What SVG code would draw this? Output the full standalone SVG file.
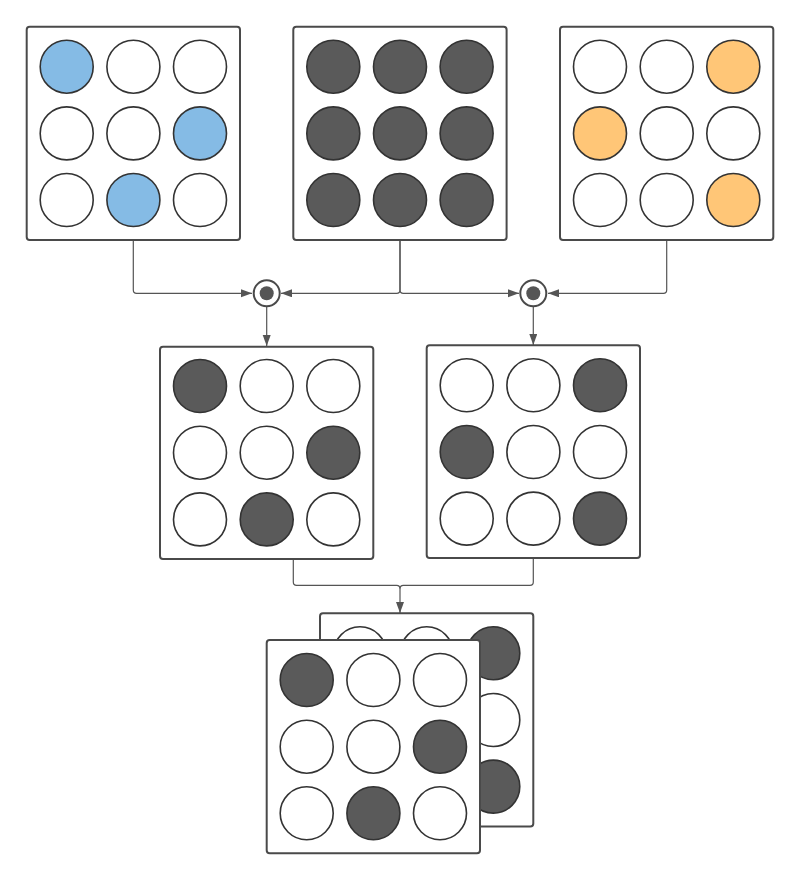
<svg xmlns="http://www.w3.org/2000/svg" width="800" height="880" viewBox="0 0 800 880">
<defs>
<style>
.box{fill:#fff;stroke:#4a4a4a;stroke-width:2}
.c{stroke:#333;stroke-width:1.6}
.w{fill:#fff}
.d{fill:#5a5a5a}
.b{fill:#85bbe5}
.o{fill:#ffc677}
.con{fill:none;stroke:#555;stroke-width:1.2}
</style>
<marker id="ah" markerUnits="userSpaceOnUse" markerWidth="12" markerHeight="10" refX="11" refY="4" orient="auto">
<path d="M0,0 L11,4 L0,8 z" fill="#555"/>
</marker>
<g id="grid">
<circle class="c" cx="40" cy="40" r="26.5"/>
</g>
</defs>
<rect width="800" height="880" fill="#fff"/>

<g id="connectors">
<path class="con" d="M133.3,240 V290 Q133.3,293.3 136.6,293.3 H252" marker-end="url(#ah)"/>
<path class="con" d="M400,240 V290 Q400,293.3 396.7,293.3 H281" marker-end="url(#ah)"/>
<path class="con" d="M400,240 V290 Q400,293.3 403.3,293.3 H519" marker-end="url(#ah)"/>
<path class="con" d="M666.7,240 V290 Q666.7,293.3 663.4,293.3 H548" marker-end="url(#ah)"/>
<path class="con" d="M266.7,306.7 V346" marker-end="url(#ah)"/>
<path class="con" d="M533.3,306.7 V345" marker-end="url(#ah)"/>
<path class="con" d="M293.3,559 V582 Q293.3,585.3 296.6,585.3 H396.7 Q400,585.3 400,588.6 V613" marker-end="url(#ah)"/>
<path class="con" d="M533.3,558 V582 Q533.3,585.3 530,585.3 H403.3 Q400,585.3 400,588.6"/>
</g>

<g id="op1">
<circle cx="266.7" cy="293.3" r="13" fill="#fff" stroke="#4a4a4a" stroke-width="2"/>
<circle cx="266.7" cy="293.3" r="7" fill="#555"/>
</g>
<g id="op2">
<circle cx="533.3" cy="293.3" r="13" fill="#fff" stroke="#4a4a4a" stroke-width="2"/>
<circle cx="533.3" cy="293.3" r="7" fill="#555"/>
</g>

<g id="top-left" transform="translate(26.7,26.7)">
<rect class="box" width="213.3" height="213.3" rx="3"/>
<circle class="c b" cx="40" cy="40" r="26.5"/><circle class="c w" cx="106.7" cy="40" r="26.5"/><circle class="c w" cx="173.3" cy="40" r="26.5"/>
<circle class="c w" cx="40" cy="106.7" r="26.5"/><circle class="c w" cx="106.7" cy="106.7" r="26.5"/><circle class="c b" cx="173.3" cy="106.7" r="26.5"/>
<circle class="c w" cx="40" cy="173.3" r="26.5"/><circle class="c b" cx="106.7" cy="173.3" r="26.5"/><circle class="c w" cx="173.3" cy="173.3" r="26.5"/>
</g>

<g id="top-middle" transform="translate(293.3,26.7)">
<rect class="box" width="213.3" height="213.3" rx="3"/>
<circle class="c d" cx="40" cy="40" r="26.5"/><circle class="c d" cx="106.7" cy="40" r="26.5"/><circle class="c d" cx="173.3" cy="40" r="26.5"/>
<circle class="c d" cx="40" cy="106.7" r="26.5"/><circle class="c d" cx="106.7" cy="106.7" r="26.5"/><circle class="c d" cx="173.3" cy="106.7" r="26.5"/>
<circle class="c d" cx="40" cy="173.3" r="26.5"/><circle class="c d" cx="106.7" cy="173.3" r="26.5"/><circle class="c d" cx="173.3" cy="173.3" r="26.5"/>
</g>

<g id="top-right" transform="translate(560,26.7)">
<rect class="box" width="213.3" height="213.3" rx="3"/>
<circle class="c w" cx="40" cy="40" r="26.5"/><circle class="c w" cx="106.7" cy="40" r="26.5"/><circle class="c o" cx="173.3" cy="40" r="26.5"/>
<circle class="c o" cx="40" cy="106.7" r="26.5"/><circle class="c w" cx="106.7" cy="106.7" r="26.5"/><circle class="c w" cx="173.3" cy="106.7" r="26.5"/>
<circle class="c w" cx="40" cy="173.3" r="26.5"/><circle class="c w" cx="106.7" cy="173.3" r="26.5"/><circle class="c o" cx="173.3" cy="173.3" r="26.5"/>
</g>

<g id="mid-left" transform="translate(160,346.7)">
<rect class="box" width="213.3" height="212.3" rx="3"/>
<circle class="c d" cx="40" cy="39.3" r="26.5"/><circle class="c w" cx="106.7" cy="39.3" r="26.5"/><circle class="c w" cx="173.3" cy="39.3" r="26.5"/>
<circle class="c w" cx="40" cy="106" r="26.5"/><circle class="c w" cx="106.7" cy="106" r="26.5"/><circle class="c d" cx="173.3" cy="106" r="26.5"/>
<circle class="c w" cx="40" cy="172.7" r="26.5"/><circle class="c d" cx="106.7" cy="172.7" r="26.5"/><circle class="c w" cx="173.3" cy="172.7" r="26.5"/>
</g>

<g id="mid-right" transform="translate(426.7,345.3)">
<rect class="box" width="213.3" height="212.7" rx="3"/>
<circle class="c w" cx="40" cy="40" r="26.5"/><circle class="c w" cx="106.7" cy="40" r="26.5"/><circle class="c d" cx="173.3" cy="40" r="26.5"/>
<circle class="c d" cx="40" cy="106.7" r="26.5"/><circle class="c w" cx="106.7" cy="106.7" r="26.5"/><circle class="c w" cx="173.3" cy="106.7" r="26.5"/>
<circle class="c w" cx="40" cy="173.3" r="26.5"/><circle class="c w" cx="106.7" cy="173.3" r="26.5"/><circle class="c d" cx="173.3" cy="173.3" r="26.5"/>
</g>

<g id="result-back" transform="translate(320,613.3)">
<rect class="box" width="213.3" height="213.3" rx="3"/>
<circle class="c w" cx="40" cy="40" r="26.5"/><circle class="c w" cx="106.7" cy="40" r="26.5"/><circle class="c d" cx="173.3" cy="40" r="26.5"/>
<circle class="c d" cx="40" cy="106.7" r="26.5"/><circle class="c w" cx="106.7" cy="106.7" r="26.5"/><circle class="c w" cx="173.3" cy="106.7" r="26.5"/>
<circle class="c w" cx="40" cy="173.3" r="26.5"/><circle class="c w" cx="106.7" cy="173.3" r="26.5"/><circle class="c d" cx="173.3" cy="173.3" r="26.5"/>
</g>

<g id="result-front" transform="translate(266.7,640)">
<rect class="box" width="213.3" height="213.3" rx="3"/>
<circle class="c d" cx="40" cy="40" r="26.5"/><circle class="c w" cx="106.7" cy="40" r="26.5"/><circle class="c w" cx="173.3" cy="40" r="26.5"/>
<circle class="c w" cx="40" cy="106.7" r="26.5"/><circle class="c w" cx="106.7" cy="106.7" r="26.5"/><circle class="c d" cx="173.3" cy="106.7" r="26.5"/>
<circle class="c w" cx="40" cy="173.3" r="26.5"/><circle class="c d" cx="106.7" cy="173.3" r="26.5"/><circle class="c w" cx="173.3" cy="173.3" r="26.5"/>
</g>
</svg>
